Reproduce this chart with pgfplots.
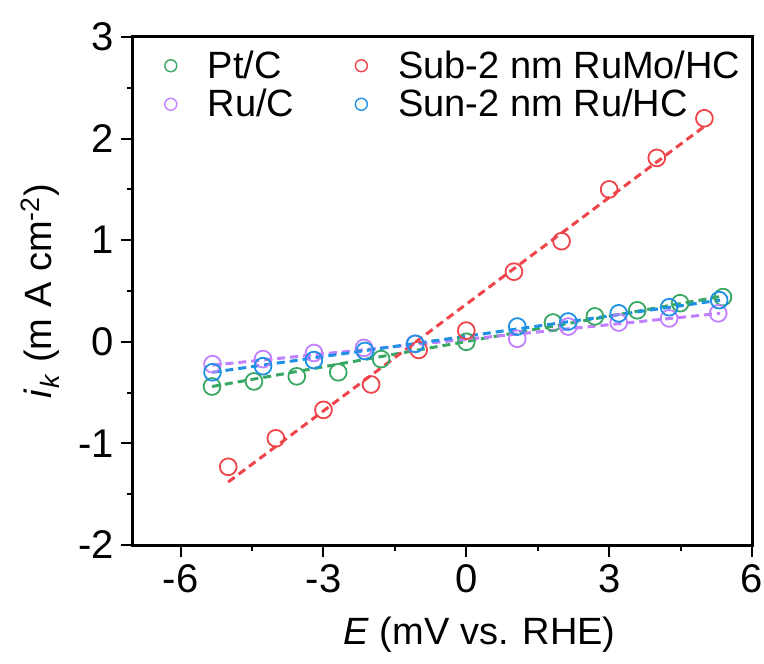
\documentclass[border=0pt]{standalone}
\usepackage{fontspec}
\setmainfont{Liberation Sans}
\usepackage{pgfplots}
\pgfplotsset{compat=1.18}

\definecolor{cpt}{RGB}{56,168,100}
\definecolor{crumo}{RGB}{238,68,74}
\definecolor{cru}{RGB}{192,128,255}
\definecolor{csun}{RGB}{30,144,230}

\begin{document}
\begin{tikzpicture}
\useasboundingbox (-66.5pt,-59pt) rectangle (315.5pt,272.5pt);
\begin{axis}[
    scale only axis,
    width=309.5pt, height=254pt,
    xmin=-7, xmax=6, ymin=-2, ymax=3,
    xtick={-6,-3,0,3,6},
    ytick={-2,-1,0,1,2,3},
    minor xtick={-4.5,-1.5,1.5,4.5},
    minor ytick={-1.5,-0.5,0.5,1.5,2.5},
    tick align=outside, tick pos=left,
    major tick length=6pt, minor tick length=3pt,
    every tick/.style={black, line width=1pt},
    axis line style={line width=1.5pt},
    /pgf/number format/assume math mode=true,
    tick label style={font=\fontsize{20}{24}\selectfont},
    label style={font=\fontsize{19}{23}\selectfont},
    xlabel={\textit{E} (mV vs. RHE)},
    ylabel={\textit{i}\textsubscript{\textit{k}} (m A cm\textsuperscript{-2})},
    xlabel style={at={(axis description cs:0.56,-0.177)}, anchor=center},
    ylabel style={at={(axis description cs:-0.150,0.5)}, anchor=center},
    legend cell align=left,
    legend style={draw=none, fill=none, at={(0.041,0.99)}, anchor=north west,
        font=\fontsize{19}{22}\selectfont, legend columns=2,
        /tikz/every even column/.append style={column sep=28.5pt}},
    legend image code/.code={%
        \path[draw=none] (0cm,0cm) -- (0.58cm,0cm);
        \draw[#1, mark size=3pt, line width=0.7pt] plot coordinates {(0cm,0cm)};},
    mark size=4.2pt,
]
% Pt/C
\addplot[only marks, mark=o, cpt, line width=0.9pt] coordinates {
    (-5.34,-0.44) (-4.46,-0.39) (-3.56,-0.34) (-2.69,-0.30) (-1.79,-0.17)
    (0,0.00) (1.82,0.19) (2.70,0.25) (3.59,0.31) (4.49,0.38) (5.39,0.44)
};
\addlegendentry{Pt/C}
% Sub-2 nm RuMo/HC
\addplot[only marks, mark=o, crumo, line width=0.9pt] coordinates {
    (-5,-1.23) (-4,-0.95) (-3,-0.67) (-2,-0.42) (-1,-0.08) (0,0.11)
    (1,0.69) (2,0.99) (3,1.50) (4,1.81) (5,2.20)
};
\addlegendentry{Sub-2 nm RuMo/HC}
% Ru/C
\addplot[only marks, mark=o, cru, line width=0.9pt] coordinates {
    (-5.33,-0.22) (-4.27,-0.17) (-3.20,-0.11) (-2.15,-0.06) (-1.08,-0.02)
    (1.07,0.03) (2.14,0.15) (3.20,0.19) (4.26,0.23) (5.29,0.28)
};
\addlegendentry{Ru/C}
% Sun-2 nm Ru/HC
\addplot[only marks, mark=o, csun, line width=0.9pt] coordinates {
    (-5.33,-0.30) (-4.27,-0.24) (-3.20,-0.18) (-2.13,-0.09) (-1.07,-0.02)
    (1.07,0.15) (2.14,0.20) (3.20,0.28) (4.26,0.34) (5.31,0.41)
};
\addlegendentry{Sun-2 nm Ru/HC}

% linear fits
\addplot[forget plot, cpt, dashed, line width=1.5pt, dash pattern=on 4pt off 2.5pt] coordinates {(-5.34,-0.44) (5.39,0.45)};
\addplot[forget plot, crumo, dashed, line width=1.5pt, dash pattern=on 4pt off 2.5pt] coordinates {(-5,-1.38) (5,2.12)};
\addplot[forget plot, cru, dashed, line width=1.5pt, dash pattern=on 4pt off 2.5pt] coordinates {(-5.33,-0.23) (5.33,0.28)};
\addplot[forget plot, csun, dashed, line width=1.5pt, dash pattern=on 4pt off 2.5pt] coordinates {(-5.33,-0.30) (5.33,0.41)};
\end{axis}
\end{tikzpicture}
\end{document}
